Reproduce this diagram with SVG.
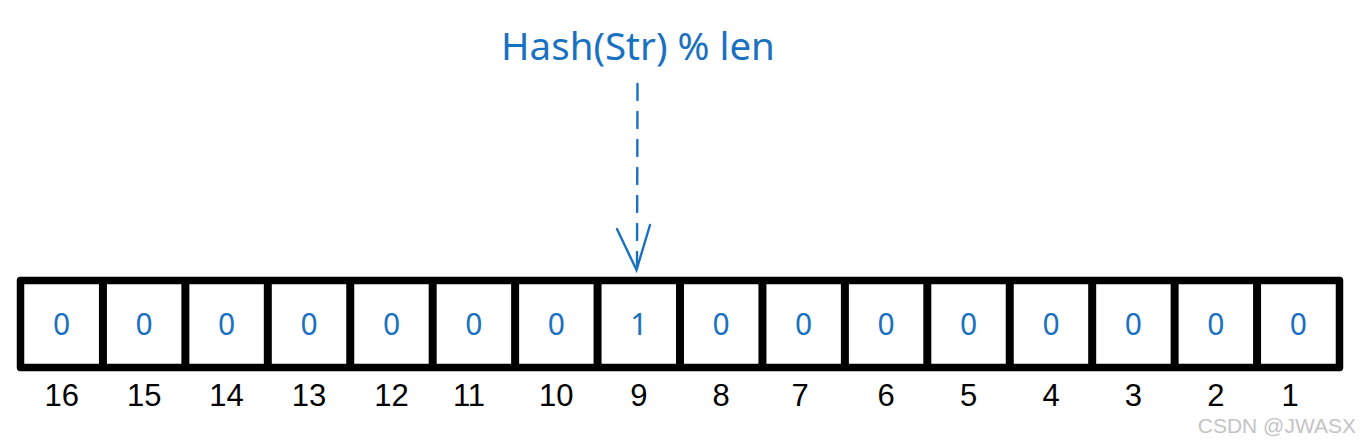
<svg xmlns="http://www.w3.org/2000/svg" width="1361" height="443" viewBox="0 0 1361 443">
<style>
.cell{fill:#fff;stroke:#000;stroke-width:7.5;stroke-linejoin:round}
.val{font-family:"Noto Sans","Open Sans",sans-serif;font-size:30px;fill:#1971c2;text-anchor:middle}
.idx{font-family:"Liberation Sans",sans-serif;font-size:31px;fill:#000;text-anchor:middle}
.title{font-family:"Noto Sans","Open Sans",sans-serif;font-size:38.5px;fill:#1971c2;text-anchor:middle}
.conn{fill:none;stroke:#1971c2;stroke-width:2.4;stroke-linecap:round}
.wm{font-family:"Liberation Sans",sans-serif;font-size:21px;fill:#c4c4c4;text-anchor:end}
</style>
<rect width="1361" height="443" fill="#fff"/>
<g id="title"><text class="title" x="638" y="60">Hash(Str) % len</text></g>
<g id="connectors">
<path class="conn" d="M637.5 84 L637 268" stroke-dasharray="16 12"/>
<path class="conn" d="M617 229 L636.5 270 L650 225"/>
</g>
<g id="array">
<rect class="cell" x="20.5" y="280.5" width="1319" height="87"/>
<g id="cells" stroke="#000" stroke-width="8">
<line x1="102.94" y1="280" x2="102.94" y2="368"/>
<line x1="185.38" y1="280" x2="185.38" y2="368"/>
<line x1="267.81" y1="280" x2="267.81" y2="368"/>
<line x1="350.25" y1="280" x2="350.25" y2="368"/>
<line x1="432.69" y1="280" x2="432.69" y2="368"/>
<line x1="515.13" y1="280" x2="515.13" y2="368"/>
<line x1="597.56" y1="280" x2="597.56" y2="368"/>
<line x1="680" y1="280" x2="680" y2="368"/>
<line x1="762.44" y1="280" x2="762.44" y2="368"/>
<line x1="844.88" y1="280" x2="844.88" y2="368"/>
<line x1="927.31" y1="280" x2="927.31" y2="368"/>
<line x1="1009.75" y1="280" x2="1009.75" y2="368"/>
<line x1="1092.19" y1="280" x2="1092.19" y2="368"/>
<line x1="1174.63" y1="280" x2="1174.63" y2="368"/>
<line x1="1257.06" y1="280" x2="1257.06" y2="368"/>
</g>
</g>
<g id="values">
<text class="val" x="61.7" y="335">0</text>
<text class="val" x="144.2" y="335">0</text>
<text class="val" x="226.6" y="335">0</text>
<text class="val" x="309" y="335">0</text>
<text class="val" x="391.5" y="335">0</text>
<text class="val" x="473.9" y="335">0</text>
<text class="val" x="556.3" y="335">0</text>
<text class="val" x="638.8" y="335">1</text>
<text class="val" x="721.2" y="335">0</text>
<text class="val" x="803.7" y="335">0</text>
<text class="val" x="886.1" y="335">0</text>
<text class="val" x="968.5" y="335">0</text>
<text class="val" x="1051" y="335">0</text>
<text class="val" x="1133.4" y="335">0</text>
<text class="val" x="1215.8" y="335">0</text>
<text class="val" x="1298.3" y="335">0</text>
</g>
<g id="indices">
<text class="idx" x="61.7" y="406">16</text>
<text class="idx" x="144.2" y="406">15</text>
<text class="idx" x="226.6" y="406">14</text>
<text class="idx" x="309" y="406">13</text>
<text class="idx" x="391.5" y="406">12</text>
<text class="idx" x="469" y="406">11</text>
<text class="idx" x="556.3" y="406">10</text>
<text class="idx" x="638.8" y="406">9</text>
<text class="idx" x="721.2" y="406">8</text>
<text class="idx" x="800" y="406">7</text>
<text class="idx" x="886.1" y="406">6</text>
<text class="idx" x="968.5" y="406">5</text>
<text class="idx" x="1051" y="406">4</text>
<text class="idx" x="1133.4" y="406">3</text>
<text class="idx" x="1215.8" y="406">2</text>
<text class="idx" x="1290" y="406">1</text>
</g>
<g id="watermark"><text class="wm" x="1356" y="433">CSDN @JWASX</text></g>
</svg>
